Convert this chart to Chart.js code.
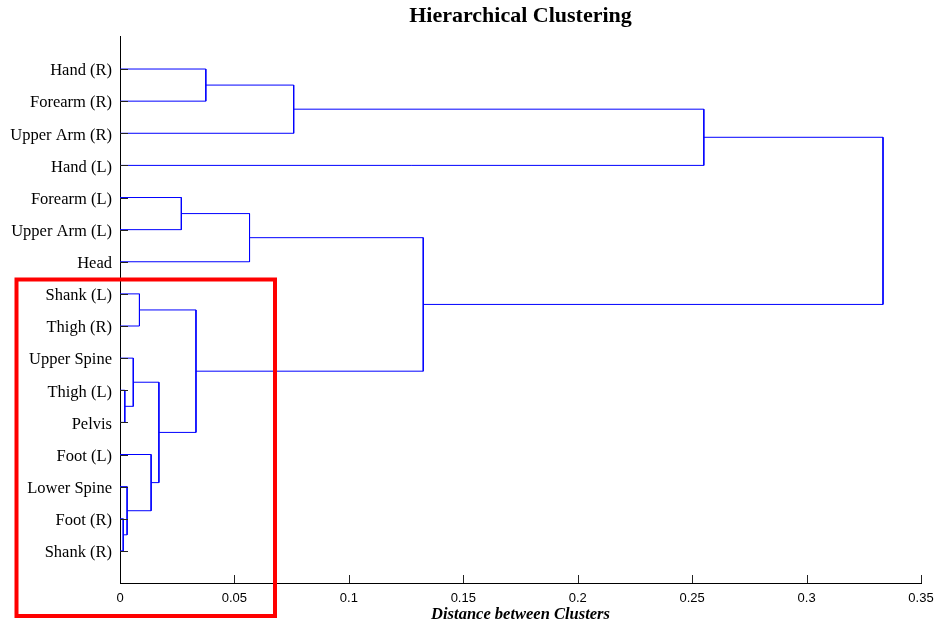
<!DOCTYPE html>
<html>
<head>
<meta charset="utf-8">
<script src="https://cdn.jsdelivr.net/npm/chart.js@4/dist/chart.umd.min.js"></script>
<style>
  body { margin: 0; background: #fff; }
  canvas { display: block; }
</style>
</head>
<body>
<canvas id="dendro" width="935" height="624"></canvas>
<script>
// leaves in the order they are drawn, top to bottom
var leafLabels = ["Hand (R)", "Forearm (R)", "Upper Arm (R)", "Hand (L)", "Forearm (L)", "Upper Arm (L)", "Head",
  "Shank (L)", "Thigh (R)", "Upper Spine", "Thigh (L)", "Pelvis", "Foot (L)", "Lower Spine", "Foot (R)", "Shank (R)"];

// linkage: merge k joins node mergeLeft[k] and mergeRight[k] into node 16 + k
var mergeLeft   = [14, 10, 13, 9, 7, 12, 19, 4, 20, 0, 23, 25, 26, 27, 29];
var mergeRight  = [15, 11, 16, 17, 8, 18, 21, 5, 22, 1, 6, 2, 24, 3, 28];
var mergeHeight = [0.0014, 0.0021, 0.0031, 0.0058, 0.0085, 0.0136, 0.0170, 0.0268, 0.0332, 0.0375, 0.0566, 0.0759, 0.1325, 0.2551, 0.3334];

var xTicks = [0, 0.05, 0.1, 0.15, 0.2, 0.25, 0.3, 0.35];

// the red box drawn over the picture (canvas pixels)
var highlightBox = { x: 16.5, y: 279.5, w: 258.5, h: 336.5 };

var nodeY = [];
var nodeH = [];
for (var i = 0; i < leafLabels.length; i++) {
  nodeY[i] = i + 1;
  nodeH[i] = 0;
}

var datasets = [];
for (var k = 0; k < mergeHeight.length; k++) {
  var a = mergeLeft[k], b = mergeRight[k], h = mergeHeight[k];
  nodeY.push((nodeY[a] + nodeY[b]) / 2);
  nodeH.push(h);
  datasets.push({
    data: [
      { x: nodeH[a], y: nodeY[a] },
      { x: h, y: nodeY[a] },
      { x: h, y: nodeY[b] },
      { x: nodeH[b], y: nodeY[b] }
    ],
    showLine: true,
    borderColor: "#0000ff",
    borderWidth: 1,
    pointRadius: 0,
    fill: false,
    tension: 0
  });
}

// matlab style ticks pointing into the plot
var innerTicks = {
  id: "innerTicks",
  afterDatasetsDraw: function(chart) {
    var ctx = chart.ctx;
    var xs = chart.scales.x, ys = chart.scales.y;
    ctx.save();
    ctx.strokeStyle = "#222";
    ctx.lineWidth = 1;
    ctx.beginPath();
    for (var i = 0; i < leafLabels.length; i++) {
      var py = Math.round(ys.getPixelForValue(i + 1)) + 0.5;
      ctx.moveTo(xs.left, py);
      ctx.lineTo(xs.left + 8, py);
    }
    for (var j = 1; j < xTicks.length; j++) {
      var px = Math.round(xs.getPixelForValue(xTicks[j])) + 0.5;
      ctx.moveTo(px, ys.bottom);
      ctx.lineTo(px, ys.bottom - 8);
    }
    ctx.stroke();
    ctx.restore();
  }
};

var redBox = {
  id: "redBox",
  afterDraw: function(chart) {
    var ctx = chart.ctx;
    ctx.save();
    ctx.strokeStyle = "#ff0000";
    ctx.lineWidth = 4;
    ctx.strokeRect(highlightBox.x, highlightBox.y, highlightBox.w, highlightBox.h);
    ctx.restore();
  }
};

const CHART = document.getElementById("dendro");

let dendroChart = new Chart(CHART, {
  type: "scatter",
  data: { datasets: datasets },
  plugins: [innerTicks, redBox],
  options: {
    responsive: false,
    animation: false,
    layout: { padding: { left: 0, right: 14, top: 0, bottom: 0 } },
    plugins: {
      legend: { display: false },
      tooltip: { enabled: false },
      title: {
        display: true,
        fullSize: false,
        text: "Hierarchical Clustering",
        color: "#000",
        font: { family: "'Liberation Serif', 'Times New Roman', serif", size: 22, weight: "bold", lineHeight: 1.2 },
        padding: { top: 3, bottom: 7.5 }
      }
    },
    scales: {
      x: {
        type: "linear",
        min: 0,
        max: 0.35,
        afterBuildTicks: function(scale) {
          scale.ticks = xTicks.map(function(v) { return { value: v }; });
        },
        afterFit: function(scale) {
          scale.height = 41;
          scale.paddingLeft = 0;
          scale.paddingRight = 0;
        },
        ticks: {
          color: "#000",
          padding: 8,
          maxRotation: 0,
          font: { family: "'Liberation Sans', Arial, sans-serif", size: 13 },
          callback: function(v) { return String(+v.toFixed(2)); }
        },
        grid: { drawOnChartArea: false, drawTicks: false },
        border: { display: true, color: "#000", width: 1 },
        title: {
          display: true,
          text: "Distance between Clusters",
          color: "#000",
          font: { family: "'Liberation Serif', 'Times New Roman', serif", size: 16.5, weight: "bold", style: "italic", lineHeight: 1.2 },
          padding: { top: 0, bottom: -1 }
        }
      },
      y: {
        type: "linear",
        min: 0,
        max: 17,
        reverse: true,
        afterBuildTicks: function(scale) {
          scale.ticks = leafLabels.map(function(_, i) { return { value: i + 1 }; });
        },
        afterFit: function(scale) { scale.width = 120; },
        ticks: {
          color: "#000",
          padding: 8,
          labelOffset: 2,
          autoSkip: false,
          font: { family: "'Liberation Serif', 'Times New Roman', serif", size: 16.5 },
          callback: function(v) { return leafLabels[v - 1] || ""; }
        },
        grid: { drawOnChartArea: false, drawTicks: false },
        border: { display: true, color: "#000", width: 1 }
      }
    }
  }
});
</script>
</body>
</html>
